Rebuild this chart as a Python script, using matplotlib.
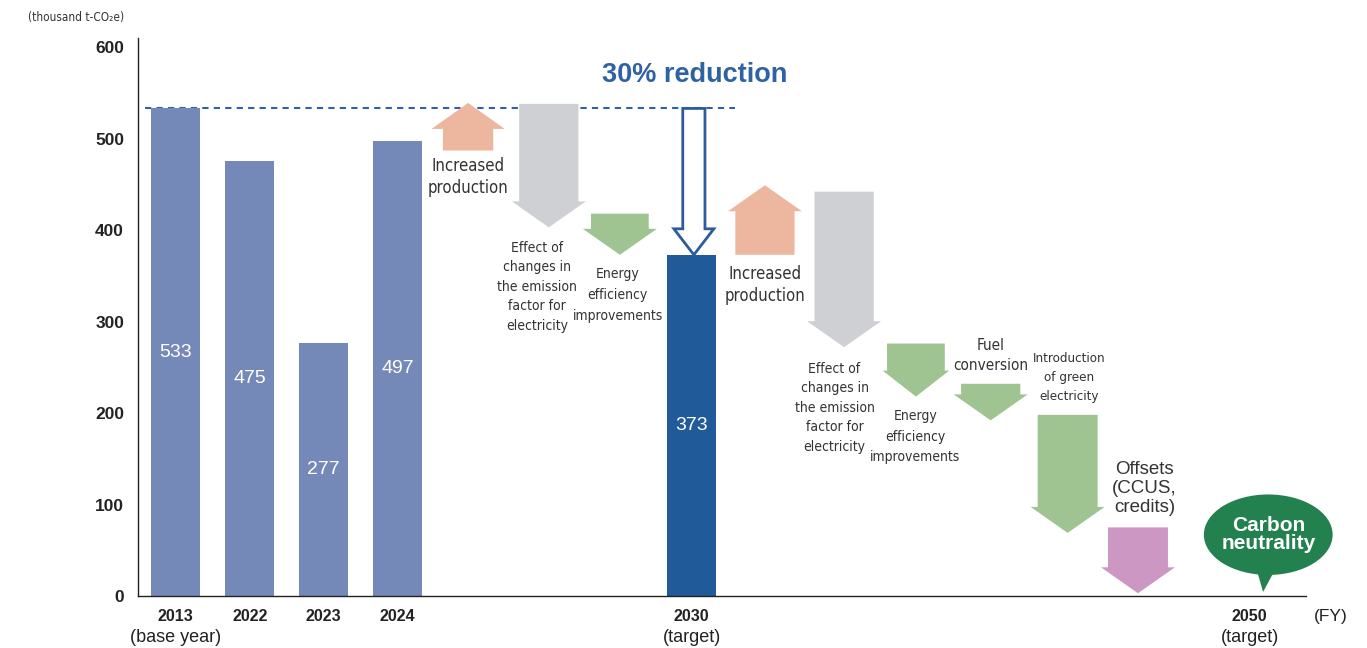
import matplotlib
matplotlib.use("Agg")
import matplotlib.pyplot as plt
from matplotlib import font_manager
from matplotlib.font_manager import FontProperties
from matplotlib.patches import Ellipse, Polygon

# bars (thousand t-CO2e)
years = ["2013", "2022", "2023", "2024", "2030", "2050"]
year_notes = ["(base year)", "", "", "", "(target)", "(target)"]
year_pos = [0, 1, 2, 3, 6.97, 14.51]
emissions = [533, 475, 277, 497, 373]
bar_colors = ["#7589b9", "#7589b9", "#7589b9", "#7589b9", "#215a99"]

# change arrows: x position, start value, end value
arrow_x = [3.95, 5.04, 6.0, 7.96, 9.03, 10.0, 11.01, 12.05, 13.0]
arrow_start = [487, 538, 418, 373, 442, 276, 232, 198, 75]
arrow_end = [539, 403, 373, 449, 272, 218, 192, 69, 3]
arrow_body = [0.68, 0.80, 0.78, 0.80, 0.80, 0.78, 0.80, 0.81, 0.81]
arrow_head = [0.99, 1.0, 1.0, 1.0, 1.0, 0.9, 1.0, 1.0, 1.0]
arrow_colors = ["#edb69f", "#cfd0d4", "#9fc491", "#edb69f", "#cfd0d4",
                "#9fc491", "#9fc491", "#9fc491", "#cc98c3"]

arrow_labels = ["Increased\nproduction",
                "Effect of\nchanges in\nthe emission\nfactor for\nelectricity",
                "Energy\nefficiency\nimprovements",
                "Increased\nproduction",
                "Effect of\nchanges in\nthe emission\nfactor for\nelectricity",
                "Energy\nefficiency\nimprovements",
                "Fuel\nconversion",
                "Introduction\nof green\nelectricity",
                "Offsets\n(CCUS,\ncredits)"]
label_x = [3.95, 4.88, 5.97, 7.96, 8.9, 9.99, 11.01, 12.07, 13.09]
label_y = [458, 338, 329, 340, 206, 174, 263, 239, 118]
label_size = [12, 10, 10, 12, 10, 10, 11, 9.6, 13.5]
label_spacing = [1.25, 1.5, 1.6, 1.25, 1.5, 1.6, 1.35, 1.6, 1.15]
label_narrow = [True, True, True, True, True, True, True, True, False]

base_value = 533
target_value = 373
HEAD_LEN = 28.4

plain = ["Liberation Sans", "DejaVu Sans"]


def find_narrow():
    # pick an installed condensed face if there is one
    for f in font_manager.fontManager.ttflist:
        if ("Narrow" in f.name or "Condensed" in f.name
                or f.stretch in ("condensed", "semi-condensed")):
            if f.weight in (400, "normal", "regular") and f.style == "normal":
                return f.fname
    return None


narrow_file = find_narrow()


def narrow_font(size):
    if narrow_file:
        return FontProperties(fname=narrow_file, size=size)
    return FontProperties(family=plain, size=size * 0.88)


def arrow_shape(x, y0, y1, body, head):
    # polygon for a block arrow running from y0 to y1
    sign = 1 if y1 > y0 else -1
    yb = y1 - sign * HEAD_LEN
    return [(x - body / 2, y0), (x + body / 2, y0), (x + body / 2, yb),
            (x + head / 2, yb), (x, y1), (x - head / 2, yb),
            (x - body / 2, yb)]


fig = plt.figure(figsize=(13.67, 6.48), dpi=100)
ax = fig.add_axes([138 / 1367, 52 / 648, 1168 / 1367, 558 / 648])
ax.set_xlim(-0.51, 15.27)
ax.set_ylim(0, 610)

for s in ["top", "right"]:
    ax.spines[s].set_visible(False)
for s in ["left", "bottom"]:
    ax.spines[s].set_linewidth(1.0)
    ax.spines[s].set_color("#222222")

# emission bars with values in the middle
ax.bar(year_pos[:5], emissions, width=0.66, color=bar_colors, zorder=2)
for x, v in zip(year_pos[:5], emissions):
    ax.text(x, v / 2, str(v), ha="center", va="center", color="white",
            fontsize=14, family=plain, zorder=3)

# dashed base-year level
ax.plot([-0.41, 7.55], [base_value, base_value], ls=(0, (3, 2.5)),
        color="#2f62a5", lw=1.5, zorder=1)

# change arrows
for x, y0, y1, b, h, c in zip(arrow_x, arrow_start, arrow_end,
                              arrow_body, arrow_head, arrow_colors):
    ax.add_patch(Polygon(arrow_shape(x, y0, y1, b, h), closed=True,
                         facecolor=c, edgecolor="none", zorder=2))

for txt, x, y, fs, ls, nar in zip(arrow_labels, label_x, label_y,
                                  label_size, label_spacing, label_narrow):
    fp = narrow_font(fs) if nar else FontProperties(family=plain, size=fs)
    ax.text(x, y, txt, ha="center", va="center", fontproperties=fp,
            color="#333333", linespacing=ls)

# hollow arrow for the 30% reduction
ax.add_patch(Polygon(arrow_shape(7.0, base_value, target_value, 0.3, 0.54),
                     closed=True, facecolor="white", edgecolor="#2a5c9e",
                     lw=2.0, zorder=3))
ax.text(7.01, 570, "30% reduction", ha="center", va="center",
        fontsize=19.5, fontweight="bold", color="#2f62a5", family=plain)

# carbon neutrality bubble
bubble_c = "#23804f"
ax.add_patch(Polygon([(14.6, 30), (14.69, 4.4), (14.86, 30)], closed=True,
                     facecolor=bubble_c, edgecolor="none", zorder=3,
                     clip_on=False))
ax.add_patch(Ellipse((14.76, 67), 1.74, 88, facecolor=bubble_c,
                     edgecolor="none", zorder=3, clip_on=False))
ax.text(14.76, 67, "Carbon\nneutrality", ha="center", va="center",
        color="white", fontsize=15, fontweight="bold", family=plain,
        linespacing=0.95, zorder=4)

# axes text
ax.set_xticks([])
ax.set_yticks(range(0, 601, 100))
ax.set_yticklabels([str(v) for v in range(0, 601, 100)], fontsize=12.5,
                   fontweight="bold", family=plain, color="#222222")
ax.tick_params(axis="y", length=0, pad=10)

for yr, note, x in zip(years, year_notes, year_pos):
    ax.text(x, -14, yr, ha="center", va="top", fontsize=11.5,
            fontweight="bold", family=plain, color="#222222")
    if note:
        ax.text(x, -36, note, ha="center", va="top", fontsize=13,
                family=plain, color="#222222")

ax.text(15.6, -14, "(FY)", ha="center", va="top", fontsize=12.5,
        family=plain, color="#222222", clip_on=False)
fig.text(28 / 1367, 1 - 17 / 648, "(thousand t-CO₂e)", ha="left",
         va="center", fontproperties=narrow_font(8.5), color="#333333")

fig.savefig("out.png", dpi=100)
